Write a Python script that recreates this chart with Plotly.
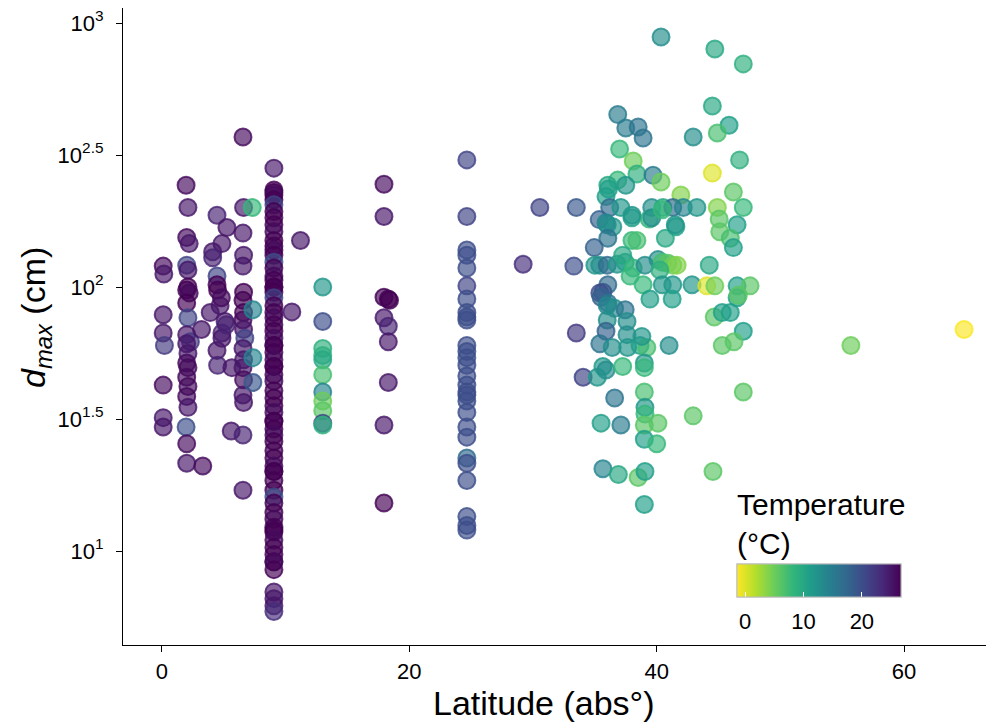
import plotly.graph_objects as go

# ---------------- data ----------------
# Site at ~0 deg
lat_a = [0.1, 0.15, 0.1, 0.1, 0.2, 0.1, 0.1, 0.1]
dmax_a = [120, 112, 78.5, 67, 60, 42.5, 32, 29.5]
temp_a = [26, 25, 25, 25, 22, 26, 25, 25]

# Sites at ~2-3 deg
lat_b = [1.95, 2.1, 2.0, 2.2, 2.0, 2.1, 2.1, 2.0, 2.2, 2.0, 2.1, 2.0, 2.3, 2.0, 2.1, 2.0,
         2.1, 2.0, 2.1, 2.0, 2.1, 1.95, 2.0, 2.0, 3.2, 3.3]
dmax_b = [243, 200, 154, 146, 121, 116, 100, 97.5, 95, 87, 76.5, 66, 62, 61, 56, 51.5,
          49.5, 45.5, 42, 38.5, 35, 29.5, 25.5, 21.5, 69, 21]
temp_b = [26, 25, 26, 25, 21, 25, 27, 27, 26, 27, 21, 25, 22, 25, 25, 26,
          26, 26, 26, 26, 25, 20, 26, 25, 25, 26]

# Sites at ~4-6 deg
lat_c = [4.45, 5.25, 4.85, 4.1, 4.1, 4.45, 4.45, 4.5, 4.7, 3.9, 5.1, 4.85, 4.85, 4.45,
         4.5, 5.65, 4.8, 5.2, 5.6]
dmax_c = [187, 168, 146, 136, 129, 110, 102, 97.5, 85, 80, 74, 67, 64, 57.5,
          50.5, 49.5, 91, 72, 28.5]
temp_c = [24, 25, 25, 25, 24, 21, 27, 27, 25, 25, 25, 24, 25, 25,
          24, 25, 26, 24, 25]

# Sites at ~6.5-7.5 deg
lat_d = [6.55, 6.6, 6.55, 6.6, 6.55, 6.6, 6.55, 6.6, 6.55, 6.6, 6.7, 6.55, 6.6, 6.55,
         6.6, 6.55, 6.6, 6.55, 6.55, 7.3, 7.35, 7.35, 7.35]
dmax_d = [370, 200, 160, 132, 120, 95.5, 89, 80, 75, 69, 64, 58.5, 53, 49.5,
          44.5, 39, 36.5, 27.5, 17, 200, 82, 54, 43.5]
temp_d = [26, 25, 25, 25, 25, 27, 27, 27, 26, 25, 21, 25, 25, 25,
          26, 25, 25, 24, 25, 8, 14, 14, 19]

# Site at ~9 deg
lat_e_site = 9.05
dmax_e = [282, 233, 228, 223, 214, 205, 193, 183, 172, 162, 150, 143, 138, 132, 124, 118,
          110, 106, 100, 100, 95.5, 91, 85, 80, 76.5, 72, 68, 64, 60, 60, 56.5, 53, 50, 50,
          46.5, 44, 40.5, 38, 35.5, 33.5, 31, 31, 29, 27.5, 26, 24, 22.5, 21, 20, 20, 18.5,
          17, 16, 15.2, 14, 13.2, 12.3, 12, 11.8, 11, 10.3, 9.7, 9.1, 9.1, 8.5, 7, 6.6, 6.2, 5.9]
temp_e = [25, 27, 27, 26, 27, 21, 27, 27, 27, 26, 27, 27, 26, 27, 20, 27,
          26, 27, 27, 27, 27, 21, 27, 27, 26, 27, 27, 26, 27, 27, 27, 26, 27, 27,
          27, 26, 27, 27, 27, 26, 27, 27, 27, 26, 27, 27, 27, 26, 27, 27, 27,
          27, 20, 27, 27, 26, 27, 27, 27, 26, 27, 27, 27, 26, 27, 25, 25, 25, 23]

# Sites at ~10-18 deg
lat_f = [10.5, 11.2, 13.0, 13.0, 13.0, 13.0, 13.0, 13.0, 13.0, 13.0, 13.0, 13.0, 13.0,
         17.95, 17.95, 17.95, 18.3, 18.4, 17.95, 18.3, 18.3, 18.3, 17.95, 17.95]
dmax_f = [80.5, 150, 100, 74, 58.5, 55, 53, 46.5, 40, 37, 34, 30.5, 30,
          245, 185, 91.5, 90, 89, 76.5, 71, 62, 43.5, 30, 15.2]
temp_f = [25, 25, 12, 20, 9, 9, 10, 7, 14, 5, 6, 21, 9,
          26, 25, 27, 27, 27, 25, 24, 25, 25, 25, 27]

# Site at ~24.6 deg
lat_g_site = 24.65
dmax_g = [303, 185, 138, 132, 118, 101, 90, 80, 77, 75, 60, 57, 54, 50.5, 46, 42.5, 40,
          39, 37, 33.5, 29.5, 27, 22.5, 21.5, 18.5, 13.5, 12.5, 12]
temp_g = [21, 21, 20, 20, 20, 21, 20, 20, 20, 20, 20, 20, 20, 20, 20, 20, 20,
          20, 20, 20, 20, 20, 17, 20, 20, 20, 20, 20]

# Temperate sites (~29-65 deg)
lat_h = [40.35, 44.7, 47.0, 36.85, 44.5, 37.5, 38.5, 45.85, 38.9, 42.95,
         44.9, 37.0, 46.7, 38.1, 44.5, 38.4, 39.7, 40.35, 36.85, 37.5,
         36.05, 46.2, 41.95, 35.9, 36.1, 30.55, 33.5, 36.2, 37.1, 39.6,
         40.5, 41.3, 42.15, 43.25, 44.9, 47.0, 35.35, 35.9, 36.45, 38.0,
         39.4, 41.55, 45.05, 46.5, 36.0, 36.05, 34.95, 38.0, 38.4, 40.7,
         45.1, 45.95, 46.2, 29.2, 33.3, 35.0, 35.4, 36.0, 36.8, 37.45,
         37.25, 38.1, 39.05, 40.1, 40.45, 40.9, 41.3, 41.65, 40.25, 44.25,
         37.85, 38.9, 36.05, 35.65, 35.4, 35.5, 36.05, 36.0, 36.6, 37.45,
         40.45, 41.3, 42.85, 44.05, 44.7, 46.5, 47.55, 46.5, 46.6, 39.45,
         41.25, 44.65, 45.3, 45.95, 36.0, 37.6, 33.5, 35.9, 35.4, 36.4,
         37.6, 37.65, 38.65, 39.2, 38.8, 41.0, 47.0, 45.3, 46.25, 34.05,
         35.2, 35.65, 35.9, 37.25, 39.0, 39.0, 39.0, 36.6, 39.05, 39.05,
         40.1, 42.95, 47.0, 35.5, 37.1, 39.0, 39.0, 40.0, 35.65, 36.9,
         38.5, 39.05, 44.55, 39.0, 38.0, 39.6, 41.5, 40.45, 55.7, 64.85]
dmax_h = [885, 797, 700, 450, 485, 400, 404, 410, 367, 370,
          383, 333, 303, 300, 270, 268, 265, 250, 254, 243,
          243, 229, 223, 220, 235, 200, 200, 200, 200, 200,
          200, 200, 200, 200, 200, 200, 180, 175, 169, 183,
          181, 169, 181, 172, 172, 153, 141, 150, 150, 153,
          162, 153, 141, 122, 120, 121, 121, 121, 122, 124,
          132, 118, 121, 127, 124, 123, 121, 121, 116, 121,
          110, 102, 102, 95.5, 95, 91.5, 87, 85, 83, 82,
          102, 102, 102, 101, 101, 101, 101, 91, 93, 90,
          90, 77, 80, 80, 75, 74, 67, 68, 61, 59,
          66, 59, 60, 59, 65, 60, 68, 60, 62, 45.5,
          45.5, 50, 48.5, 50, 51.5, 49.5, 40, 38, 35, 33,
          30.5, 32.5, 40, 30.5, 30, 30, 26.5, 25.5, 20.5, 19.5,
          19, 20, 20, 15, 187, 183, 172, 196, 60, 69]
temp_h = [13, 10, 9, 15, 10, 15, 16, 11, 16, 13,
          7, 8, 9, 5, 0, 9, 15, 5, 8, 12,
          10, 6, 4, 11, 11, 21, 19, 17, 12, 13,
          10, 17, 14, 12, 4, 8, 18, 14, 12, 11,
          8, 11, 6, 11, 13, 16, 18, 8, 7, 10,
          6, 7, 11, 23, 20, 12, 13, 17, 12, 11,
          10, 8, 13, 13, 7, 6, 5, 4, 9, 10,
          8, 8, 17, 19, 20, 18, 16, 14, 13, 16,
          12, 12, 12, 0, 5, 11, 6, 11, 6, 11,
          11, 6, 11, 11, 13, 13, 22, 18, 16, 13,
          13, 12, 11, 7, 12, 13, 11, 6, 6, 21,
          12, 12, 13, 8, 12, 8, 7, 16, 12, 8,
          6, 6, 6, 11, 15, 6, 11, 8, 14, 10,
          6, 11, 6, 11, 12, 13, 12, 8, 5, -1.3]

x_ticks = [0, 20, 40, 60]
y_ticks = [10, 10 ** 1.5, 100, 10 ** 2.5, 1000]
y_ticktext = ["10<sup>1</sup>", "10<sup>1.5</sup>", "10<sup>2</sup>", "10<sup>2.5</sup>", "10<sup>3</sup>"]
temp_ticks = [0, 10, 20]

# ---------------- assemble ----------------
latitude = (lat_a + lat_b + lat_c + lat_d + [lat_e_site] * len(dmax_e) + lat_f
            + [lat_g_site] * len(dmax_g) + lat_h)
dmax = dmax_a + dmax_b + dmax_c + dmax_d + dmax_e + dmax_f + dmax_g + dmax_h
temperature = temp_a + temp_b + temp_c + temp_d + temp_e + temp_f + temp_g + temp_h

CMIN, CMAX = -1.37, 26.7
viridis = ['#440154', '#482878', '#3e4989', '#31688e', '#26828e',
           '#1f9e89', '#35b779', '#6ece58', '#b5de2b', '#fde725']
viridis_r = viridis[::-1]


def rgba_scale(hexes, a):
    out = []
    n = len(hexes) - 1
    for i, h in enumerate(hexes):
        r, g, b = int(h[1:3], 16), int(h[3:5], 16), int(h[5:7], 16)
        out.append([i / n, f"rgba({r},{g},{b},{a})"])
    return out


# layout geometry; the page body adds an 8px offset, so the figure is
# sized to fill the remaining window and positions are given in window pixels
OFF = 8
W, H = 994 - OFF, 723 - OFF
ML, MR, MT, MB = 115, 0, 0, 78
PW, PH = W - ML - MR, H - MT - MB


def px_x(px):
    return (px - OFF - ML) / PW


def px_y(py):
    return (H - MB - (py - OFF)) / PH


fig = go.Figure()
fig.add_trace(go.Scatter(
    x=latitude, y=dmax, mode="markers",
    marker=dict(
        size=17, color=temperature, cmin=CMIN, cmax=CMAX,
        colorscale=rgba_scale(viridis_r, 0.66), showscale=False,
        line=dict(width=2, color=temperature, cmin=CMIN, cmax=CMAX,
                  colorscale=rgba_scale(viridis_r, 0.8)),
    ),
    hoverinfo="x+y",
))

cb_common = dict(
    orientation="h", thickness=33, thicknessmode="pixels",
    len=164, lenmode="pixels",
    x=px_x(737), xanchor="left", y=px_y(564), yanchor="top",
    xpad=0, ypad=0, outlinewidth=1, outlinecolor="#bbbbbb",
    tickvals=temp_ticks,
)

# colour bar with labels (ticks pushed outside, invisible on white)
fig.add_trace(go.Scatter(
    x=[latitude[0]], y=[dmax[0]], mode="markers", hoverinfo="skip",
    marker=dict(
        size=1, opacity=0, color=[temperature[0]], cmin=CMIN, cmax=CMAX,
        colorscale=rgba_scale(viridis_r, 1), showscale=True,
        colorbar=dict(**cb_common, ticks="outside", ticklen=6, tickcolor="white",
                      tickfont=dict(size=22, color="black")),
    ),
))
# same colour bar, drawing the white inner tick marks
fig.add_trace(go.Scatter(
    x=[latitude[0]], y=[dmax[0]], mode="markers", hoverinfo="skip",
    marker=dict(
        size=1, opacity=0, color=[temperature[0]], cmin=CMIN, cmax=CMAX,
        colorscale=rgba_scale(viridis_r, 1), showscale=True,
        colorbar=dict(**cb_common, ticks="inside", ticklen=5, tickcolor="white",
                      tickwidth=1, showticklabels=False),
    ),
))

fig.update_layout(
    width=W, height=H,
    margin=dict(l=ML, r=MR, t=MT, b=MB),
    plot_bgcolor="white", paper_bgcolor="white",
    showlegend=False,
    font=dict(family="Liberation Sans, Arial, sans-serif", color="black"),
    xaxis=dict(
        range=[-3.15, 67.27], tickvals=x_ticks, showgrid=False, zeroline=False,
        showline=True, linecolor="black", linewidth=1.2, automargin=False,
        ticks="outside", ticklen=6, tickcolor="black", tickwidth=1.2,
        tickfont=dict(size=22, color="black"),
    ),
    yaxis=dict(
        type="log", range=[0.644, 3.0568], tickvals=y_ticks, ticktext=y_ticktext,
        showgrid=False, zeroline=False, automargin=False,
        showline=True, linecolor="black", linewidth=1.2,
        ticks="outside", ticklen=6, tickcolor="black", tickwidth=1.2,
        ticklabelstandoff=8, ticklabeloverflow="allow",
        tickfont=dict(size=22, color="black"),
    ),
    annotations=[
        dict(text="Latitude (abs°)", xref="paper", yref="paper",
             x=px_x(544), y=px_y(703), xanchor="center", yanchor="middle",
             showarrow=False, font=dict(size=34, color="black")),
        dict(text="<i>d</i><sub><i>max</i></sub> (cm)", xref="paper", yref="paper",
             x=px_x(35), y=px_y(318), xanchor="center", yanchor="middle",
             textangle=-90, showarrow=False, font=dict(size=34, color="black")),
        dict(text="Temperature<br>(°C)", xref="paper", yref="paper",
             x=px_x(735), y=px_y(486), xanchor="left", yanchor="top", align="left",
             showarrow=False, font=dict(size=30, color="black")),
    ],
)

fig.write_html("out.html")
